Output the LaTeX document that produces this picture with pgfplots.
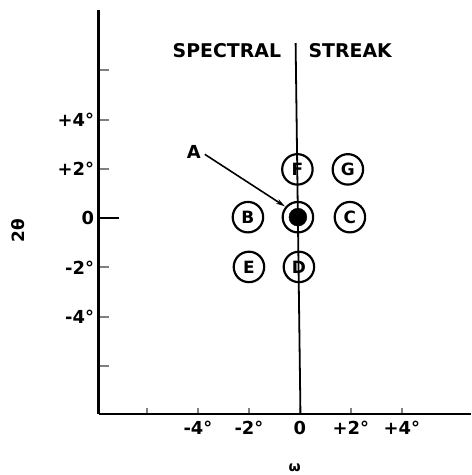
\documentclass[border=0pt]{standalone}
\usepackage{fontspec}
\setmainfont{DejaVu Sans}
\usepackage{pgfplots}
\pgfplotsset{compat=1.18}
\usetikzlibrary{arrows.meta}
\begin{document}
\begin{tikzpicture}
\begin{axis}[
  scale only axis, width=374pt, height=406pt,
  xmin=-7.9, xmax=6.7, ymin=-7.95, ymax=8.45,
  axis lines=left,
  axis line style={-, line width=2.4pt},
  tick align=inside,
  major tick length=11pt,
  xtick={-6,-4,-2,0,2,4}, xticklabels={,-4°,-2°,0,+2°,+4°},
  ytick={-6,-4,-2,0,2,4,6}, yticklabels={,-4°,-2°,0,+2°,+4°,},
  x tick style={line width=2pt, /pgfplots/major tick length=6pt},
  y tick style={line width=2pt},
  /pgf/number format/assume math mode=true,
  ticklabel style={font=\bfseries\fontsize{18}{20}\selectfont},
  xticklabel style={yshift=-4pt},
  yticklabel style={xshift=-1pt},
  xlabel={ω}, ylabel={2θ},
  xlabel style={at={(axis description cs:0.527,-0.133)}, anchor=center, font=\bfseries\fontsize{14}{16}\selectfont},
  ylabel style={at={(axis description cs:-0.2166,0.453)}, anchor=center, font=\bfseries\fontsize{17}{19}\selectfont},
  clip=false,
]
% longer tick at 0 on the 2theta axis
\addplot[line width=2pt] coordinates {(-7.9,0) (-7.1,0)};
% spectral streak
\addplot[line width=1.8pt] coordinates {(0.02,-7.95) (-0.17,7.1)};
% reflections
\addplot[only marks, mark=o, mark size=15.3pt, mark options={line width=2.2pt},
  nodes near coords, point meta=explicit symbolic,
  every node near coord/.style={anchor=center, font=\bfseries\fontsize{17}{19}\selectfont}]
  coordinates {(-0.1,1.98)[F] (1.88,1.98)[G] (-2.04,0.04)[B] (1.96,0.04)[C] (-2,-1.98)[E] (-0.04,-1.98)[D]};
\addplot[only marks, mark=o, mark size=15.3pt, mark options={line width=2.2pt}] coordinates {(-0.08,0.04)};
\addplot[only marks, mark=*, mark size=9pt] coordinates {(-0.08,0.04)};
% arrow from A
\addplot[line width=1.6pt, -{Stealth[length=9pt,width=5pt]}] coordinates {(-3.73,2.59) (-0.59,0.48)};
\node[font=\bfseries\fontsize{18}{20}\selectfont] at (axis cs:-4.16,2.67) {A};
\node[anchor=east, font=\bfseries\fontsize{19}{21}\selectfont] at (axis cs:-0.6,6.8) {SPECTRAL};
\node[anchor=west, font=\bfseries\fontsize{19}{21}\selectfont] at (axis cs:0.2,6.8) {STREAK};
\end{axis}
\path[use as bounding box] ([xshift=-99pt,yshift=-59pt]current axis.south west) rectangle ++(473pt,475pt);
\end{tikzpicture}
\end{document}
